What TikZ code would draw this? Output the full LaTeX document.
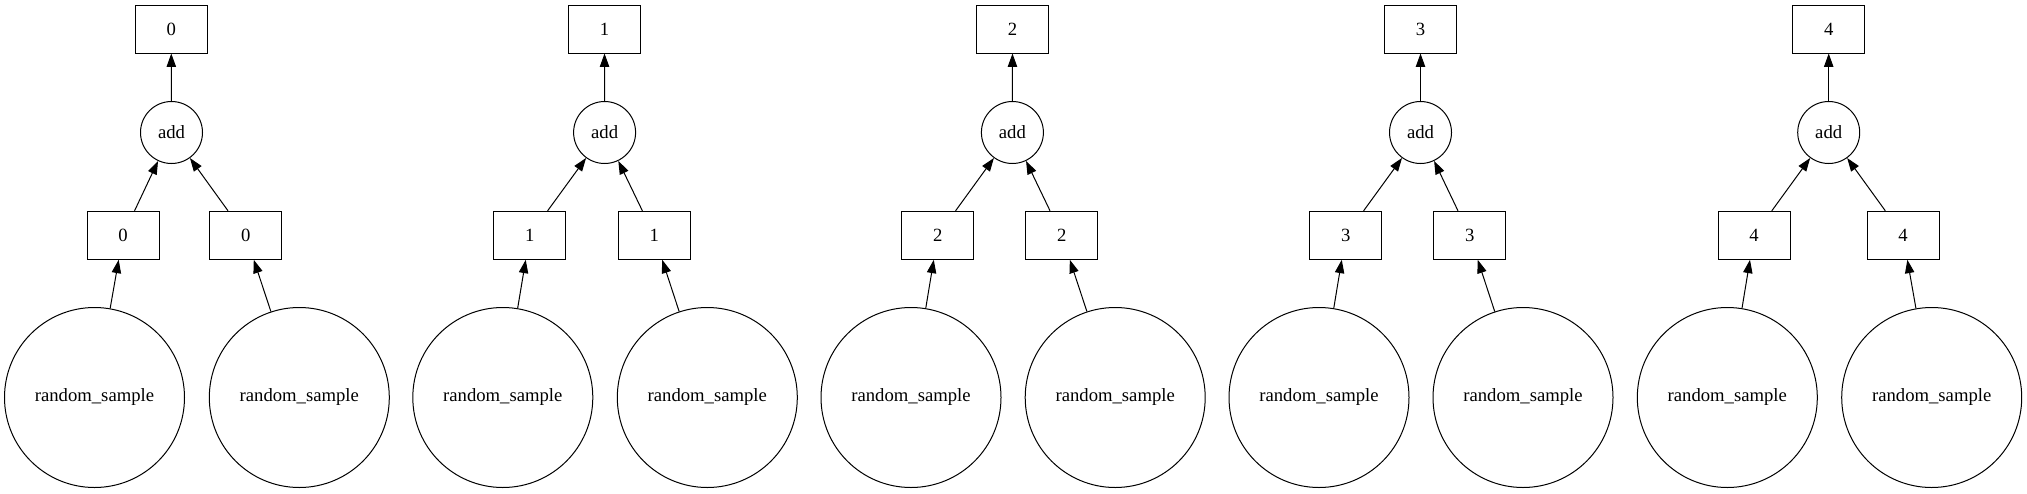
\documentclass[tikz,border=0pt]{standalone}
\usepackage{fontspec}
\setmainfont{Liberation Serif}
\usetikzlibrary{arrows.meta}

\begin{document}
\begin{tikzpicture}[x=0.75pt, y=-0.75pt, line width=0.75pt,
  font=\fontsize{14pt}{17pt}\selectfont,
  box/.style={draw, rectangle, minimum width=54pt, minimum height=36pt, inner sep=0pt},
  op/.style={draw, circle, minimum size=46.5pt, inner sep=0pt},
  leaf/.style={draw, circle, minimum size=135pt, inner sep=0pt},
  arr/.style={-{Triangle[length=10pt, width=7pt]}}]

  \useasboundingbox (0,0) rectangle (2027,493);

  % Chunk 0
  \node[box] (out0) at (171.2, 29) {0};
  \node[op] (add0) at (171.5, 132.5) {add};
  \node[box] (l0) at (123, 235.3) {0};
  \node[box] (r0) at (245.7, 235.3) {0};
  \node[leaf] (rsl0) at (94.5, 397.5) {random\_sample};
  \node[leaf] (rsr0) at (299.3, 397.5) {random\_sample};
  \draw[arr] (add0) -- (out0);
  \draw[arr] (l0) -- (add0);
  \draw[arr] (r0) -- (add0);
  \draw[arr] (rsl0) -- (l0);
  \draw[arr] (rsr0) -- (r0);

  % Chunk 1
  \node[box] (out1) at (604.5, 29) {1};
  \node[op] (add1) at (604.6, 132.5) {add};
  \node[box] (l1) at (529.8, 235.3) {1};
  \node[box] (r1) at (654.2, 235.3) {1};
  \node[leaf] (rsl1) at (502.8, 397.5) {random\_sample};
  \node[leaf] (rsr1) at (707.3, 397.5) {random\_sample};
  \draw[arr] (add1) -- (out1);
  \draw[arr] (l1) -- (add1);
  \draw[arr] (r1) -- (add1);
  \draw[arr] (rsl1) -- (l1);
  \draw[arr] (rsr1) -- (r1);

  % Chunk 2
  \node[box] (out2) at (1012.5, 29) {2};
  \node[op] (add2) at (1012.4, 132.5) {add};
  \node[box] (l2) at (937.8, 235.3) {2};
  \node[box] (r2) at (1061.8, 235.3) {2};
  \node[leaf] (rsl2) at (911, 397.5) {random\_sample};
  \node[leaf] (rsr2) at (1115.2, 397.5) {random\_sample};
  \draw[arr] (add2) -- (out2);
  \draw[arr] (l2) -- (add2);
  \draw[arr] (r2) -- (add2);
  \draw[arr] (rsl2) -- (l2);
  \draw[arr] (rsr2) -- (r2);

  % Chunk 3
  \node[box] (out3) at (1420.5, 29) {3};
  \node[op] (add3) at (1420.5, 132.5) {add};
  \node[box] (l3) at (1345.8, 235.3) {3};
  \node[box] (r3) at (1469.7, 235.3) {3};
  \node[leaf] (rsl3) at (1319, 397.5) {random\_sample};
  \node[leaf] (rsr3) at (1523, 397.5) {random\_sample};
  \draw[arr] (add3) -- (out3);
  \draw[arr] (l3) -- (add3);
  \draw[arr] (r3) -- (add3);
  \draw[arr] (rsl3) -- (l3);
  \draw[arr] (rsr3) -- (r3);

  % Chunk 4
  \node[box] (out4) at (1828.7, 29) {4};
  \node[op] (add4) at (1828.7, 132.5) {add};
  \node[box] (l4) at (1754, 235.3) {4};
  \node[box] (r4) at (1903, 235.3) {4};
  \node[leaf] (rsl4) at (1727.3, 397.5) {random\_sample};
  \node[leaf] (rsr4) at (1931.7, 397.5) {random\_sample};
  \draw[arr] (add4) -- (out4);
  \draw[arr] (l4) -- (add4);
  \draw[arr] (r4) -- (add4);
  \draw[arr] (rsl4) -- (l4);
  \draw[arr] (rsr4) -- (r4);

\end{tikzpicture}
\end{document}
